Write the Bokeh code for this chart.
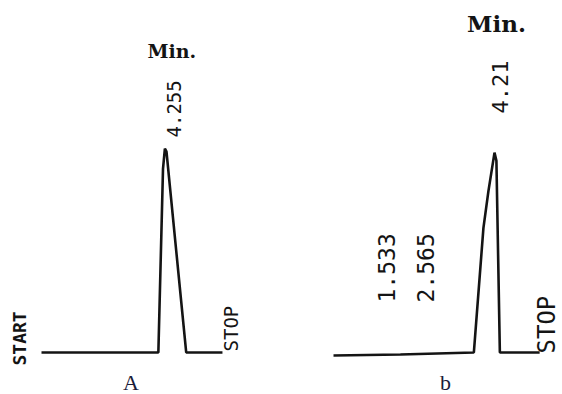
import math
from bokeh.plotting import figure
from bokeh.models import Range1d
from bokeh.core.properties import value
from bokeh.embed import file_html
from bokeh.resources import INLINE

# --- Chromatogram A (time in min, detector signal in arbitrary units) ---
a_time = [0.0, 4.03, 4.19, 4.255, 4.31, 4.99, 6.24]
a_signal = [0.0, 0.0, 90.0, 100.0, 98.5, 0.0, 0.0]
a_peak_times = [4.255]
a_peak_signal = [100.0]
a_peak_labels = ["4.255"]

# --- Chromatogram b ---
b_time = [0.0, 1.75, 3.67, 3.92, 4.05, 4.21, 4.26, 4.35, 5.39]
b_signal = [-1.5, -1.0, 0.0, 61.0, 79.0, 98.0, 94.0, 0.0, 0.0]
b_minor_times = [1.533, 2.565]
b_minor_labels = ["1.533", "2.565"]
b_main_times = [4.21]
b_main_signal = [98.0]
b_main_labels = ["4.21"]

panel_names = ["A", "b"]
unit_label = "Min."

W, H = 562, 394
p = figure(width=W, height=H, output_backend="svg", toolbar_location=None,
           x_range=Range1d(-1.4138, 17.966), y_range=Range1d(-20.59, 172.55),
           min_border=0, min_border_left=0, min_border_right=0,
           min_border_top=0, min_border_bottom=0)
p.extra_x_ranges = {"b": Range1d(-8.708, 5.988)}
p.xaxis.visible = False
p.yaxis.visible = False
p.grid.visible = False
p.outline_line_color = None
p.background_fill_color = "white"
p.border_fill_color = "white"

ink = "#141414"
mono = value("DejaVu Sans Mono")
serif = value("DejaVu Serif")
rot = math.pi / 2

# traces
p.line(a_time, a_signal, line_color=ink, line_width=2.6)
p.line(b_time, b_signal, line_color=ink, line_width=2.6, x_range_name="b")

# ---- Panel A texts ----
p.text(x=[a_time[0]], y=[a_signal[0]], text=["START"], angle=rot,
       text_align="left", text_baseline="middle", x_offset=-22, y_offset=13,
       text_font=mono, text_font_style="bold", text_font_size="18px", text_color=ink)
p.text(x=[a_time[-1]], y=[a_signal[-1]], text=["STOP"], angle=rot,
       text_align="left", text_baseline="middle", x_offset=8.5, y_offset=-1,
       text_font=mono, text_font_size="19px", text_color=ink)
p.text(x=a_peak_times, y=a_peak_signal, text=a_peak_labels, angle=rot,
       text_align="left", text_baseline="middle", x_offset=9.5, y_offset=-11,
       text_font=mono, text_font_size="19px", text_color=ink)
p.text(x=a_peak_times, y=a_peak_signal, text=[unit_label],
       text_align="center", text_baseline="alphabetic", x_offset=7, y_offset=-97,
       text_font=serif, text_font_style="bold", text_font_size="19px", text_color=ink)
p.text(x=[(a_time[0] + a_time[-1]) / 2], y=[0.0], text=[panel_names[0]],
       text_align="center", text_baseline="alphabetic", x_offset=-1, y_offset=30,
       text_font=value("Liberation Serif"), text_font_size="22px", text_color="#1c1c3a")

# ---- Panel b texts ----
p.text(x=[b_time[-1]], y=[b_signal[-1]], text=["STOP"], angle=rot,
       text_align="left", text_baseline="middle", x_offset=7.5, y_offset=1,
       text_font=mono, text_font_size="24px", text_color=ink,
       x_range_name="b")
p.text(x=b_minor_times, y=[0.0] * len(b_minor_times), text=b_minor_labels, angle=rot,
       text_align="left", text_baseline="middle", x_offset=-6, y_offset=-50,
       text_font=mono, text_font_size="23px", text_color=ink, x_range_name="b")
p.text(x=b_main_times, y=b_main_signal, text=b_main_labels, angle=rot,
       text_align="left", text_baseline="middle", x_offset=5, y_offset=-39,
       text_font=mono, text_font_size="22px", text_color=ink, x_range_name="b")
p.text(x=b_main_times, y=b_main_signal, text=[unit_label],
       text_align="center", text_baseline="alphabetic", x_offset=2, y_offset=-129,
       text_font=serif, text_font_style="bold", text_font_size="23px", text_color=ink,
       x_range_name="b")
p.text(x=[(b_time[0] + b_time[-1]) / 2], y=[0.0], text=[panel_names[1]],
       text_align="center", text_baseline="alphabetic", x_offset=9, y_offset=30,
       text_font=value("Liberation Serif"), text_font_size="22px", text_color="#1c1c3a",
       x_range_name="b")

open("out.html", "w").write(file_html(p, INLINE))
